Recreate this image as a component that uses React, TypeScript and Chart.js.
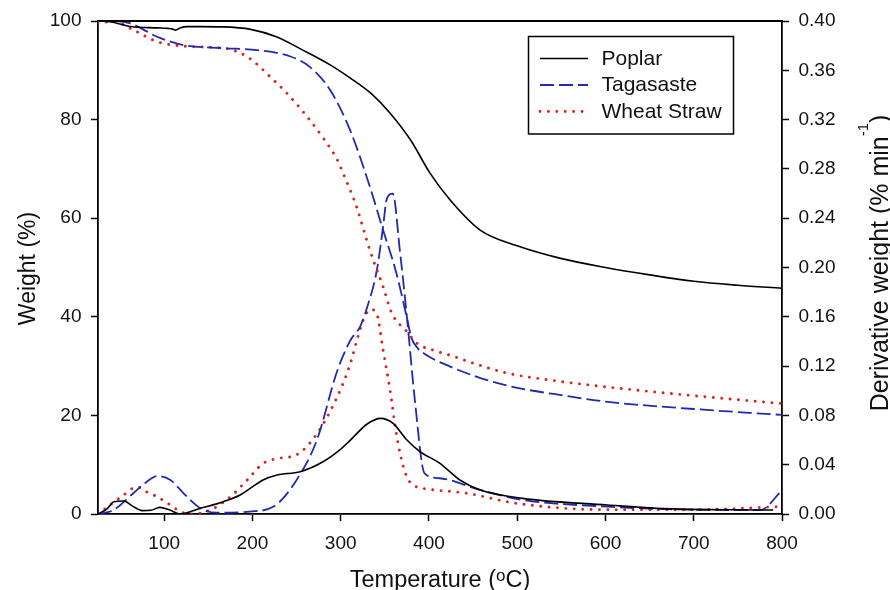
import { useEffect, useRef } from "react";
import { Chart, registerables } from "chart.js";

Chart.register(...registerables);

const FONT = '"Liberation Sans", Arial, Helvetica, sans-serif';

// Axis ticks
const tempTicks = [100, 200, 300, 400, 500, 600, 700, 800];
const weightTicks = [0, 20, 40, 60, 80, 100];
const derivTicks = [0, 0.04, 0.08, 0.12, 0.16, 0.2, 0.24, 0.28, 0.32, 0.36, 0.4];

const seriesNames = ["Poplar", "Tagasaste", "Wheat Straw"];

// TG curves: temperature (ºC) -> residual weight (%)
const poplarTgT = [25, 40, 62, 92, 104, 109, 113, 118, 126, 140, 167, 198, 227, 257, 288, 311, 335, 356, 379, 401, 424, 458, 500, 548, 600, 650, 700, 750, 800];
const poplarTg = [100, 99.8, 98.9, 98.6, 98.5, 98.4, 98.15, 98.6, 98.85, 98.85, 98.8, 98.3, 96.8, 94.1, 91.1, 88.4, 85.2, 81.3, 75.9, 69.2, 63.7, 57.6, 54.4, 51.9, 50.0, 48.5, 47.2, 46.4, 45.8];

const tagTgT = [25, 45, 62, 92, 122, 167, 205, 243, 265, 288, 311, 333, 348, 363, 375, 380, 386, 394, 424, 465, 500, 550, 600, 700, 800];
const tagTg = [100, 100, 99.5, 96.8, 95.1, 94.5, 94.1, 92.8, 90.7, 86.0, 77.7, 66.4, 57.6, 48.9, 39.8, 35.8, 33.9, 32.6, 29.9, 27.2, 25.6, 24.1, 22.8, 21.3, 20.1];

const wheatTgT = [25, 42, 65, 92, 122, 167, 178, 197, 220, 243, 265, 280, 296, 303, 318, 333, 348, 358, 375, 386, 409, 424, 450, 488, 540, 600, 700, 800];
const wheatTg = [99.5, 99.9, 98.2, 95.8, 94.9, 94.5, 94.1, 92.4, 88.7, 84.6, 79.9, 76.3, 71.9, 69.0, 62.3, 53.5, 46.1, 40.7, 37.0, 34.7, 33.0, 32.2, 30.6, 28.6, 27.1, 25.8, 24.0, 22.4];

// DTG curves: temperature (ºC) -> derivative weight (% min-1)
const poplarDtgT = [25, 35, 43, 54, 65, 76, 85, 95, 107, 118, 141, 167, 186, 212, 228, 254, 280, 299, 311, 330, 345, 359, 375, 390, 412, 435, 458, 506, 602, 658, 790];
const poplarDtg = [0, 0.004, 0.01, 0.0105, 0.006, 0.0027, 0.003, 0.0054, 0.003, 0, 0.0046, 0.01, 0.0154, 0.0276, 0.0316, 0.0343, 0.0424, 0.052, 0.06, 0.073, 0.0776, 0.0738, 0.06, 0.0505, 0.0413, 0.0276, 0.0195, 0.0127, 0.0073, 0.0046, 0.0032];

const tagDtgT = [25, 42, 65, 80, 92, 107, 122, 141, 160, 197, 224, 250, 273, 296, 311, 322, 329, 341, 348, 352, 359, 367, 375, 384, 395, 412, 458, 506, 602, 676, 775, 800];
const tagDtg = [0, 0.003, 0.0168, 0.026, 0.0308, 0.0276, 0.0168, 0.0046, 0.001, 0.002, 0.006, 0.0276, 0.06, 0.116, 0.141, 0.152, 0.1655, 0.198, 0.233, 0.255, 0.26, 0.214, 0.16, 0.0925, 0.033, 0.029, 0.0195, 0.0114, 0.006, 0.0038, 0.0032, 0.019];

const wheatDtgT = [25, 42, 54, 69, 80, 92, 107, 118, 129, 152, 175, 194, 212, 228, 250, 273, 296, 310, 320, 327, 334, 341, 348, 356, 362, 367, 375, 386, 393, 443, 499, 600, 700, 797];
const wheatDtg = [0, 0.009, 0.0154, 0.022, 0.018, 0.014, 0.0073, 0.002, 0, 0.0032, 0.014, 0.0276, 0.041, 0.045, 0.048, 0.065, 0.095, 0.12, 0.145, 0.16, 0.166, 0.162, 0.133, 0.1, 0.07, 0.05, 0.03, 0.022, 0.0208, 0.0168, 0.0087, 0.0035, 0.0035, 0.006];

const toPoints = (xs: number[], ys: number[]) => xs.map((x, i) => ({ x, y: ys[i] }));

const styles = [
  { borderColor: "#000000", borderWidth: 1.6, borderDash: [] as number[], borderCapStyle: "butt" as const },
  { borderColor: "rgb(32, 42, 175)", borderWidth: 1.8, borderDash: [14, 5], borderCapStyle: "butt" as const },
  { borderColor: "rgb(222, 32, 28)", borderWidth: 2.9, borderDash: [0.01, 8.4], borderCapStyle: "round" as const },
];

type Part = { text: string; sup?: boolean };

function drawRich(
  ctx: CanvasRenderingContext2D,
  parts: Part[],
  x: number,
  y: number,
  rotation: number,
  size: number,
  supSize: number,
  supRise: number
) {
  ctx.save();
  ctx.translate(x, y);
  ctx.rotate(rotation);
  ctx.textBaseline = "alphabetic";
  ctx.textAlign = "left";
  ctx.fillStyle = "#111";
  let total = 0;
  const widths = parts.map((p) => {
    ctx.font = `${p.sup ? supSize : size}px ${FONT}`;
    const w = ctx.measureText(p.text).width;
    total += w;
    return w;
  });
  let cx = -total / 2;
  parts.forEach((p, i) => {
    ctx.font = `${p.sup ? supSize : size}px ${FONT}`;
    ctx.fillText(p.text, cx, p.sup ? -supRise : 0);
    cx += widths[i];
  });
  ctx.restore();
}

const decorPlugin = {
  id: "decor",
  afterDraw(chart: any) {
    const { ctx, chartArea } = chart;
    // top edge of the frame
    ctx.save();
    ctx.strokeStyle = "#000";
    ctx.lineWidth = 1.8;
    ctx.beginPath();
    ctx.moveTo(chartArea.left - 0.9, chartArea.top);
    ctx.lineTo(chartArea.right + 0.9, chartArea.top);
    ctx.stroke();
    ctx.restore();

    // axis titles
    const midY = (chartArea.top + chartArea.bottom) / 2;
    const midX = (chartArea.left + chartArea.right) / 2;
    drawRich(ctx, [{ text: "Temperature (" }, { text: "o", sup: true }, { text: "C)" }], midX, 586.5, 0, 23.5, 17, 6);
    drawRich(ctx, [{ text: "Weight (%)" }], 35, midY + 1, -Math.PI / 2, 23, 15, 0);
    drawRich(ctx, [{ text: "Derivative weight (% min" }, { text: "-1", sup: true }, { text: ")" }], 888, 263, -Math.PI / 2, 25, 15, 20);

    // legend box
    const box = { x: 528.5, y: 36.5, w: 205, h: 97.5 };
    ctx.save();
    ctx.strokeStyle = "#000";
    ctx.lineWidth = 1.5;
    ctx.setLineDash([]);
    ctx.strokeRect(box.x, box.y, box.w, box.h);
    const rows = [58.5, 85, 111.5];
    chart.data.datasets.slice(0, 3).forEach((ds: any, i: number) => {
      const y = rows[i];
      ctx.save();
      ctx.strokeStyle = ds.borderColor;
      ctx.lineWidth = ds.borderWidth;
      ctx.lineCap = ds.borderCapStyle;
      ctx.setLineDash(ds.borderDash);
      ctx.beginPath();
      ctx.moveTo(540, y);
      ctx.lineTo(588, y);
      ctx.stroke();
      ctx.restore();
      ctx.fillStyle = "#111";
      ctx.font = `21px ${FONT}`;
      ctx.textBaseline = "middle";
      ctx.textAlign = "left";
      ctx.fillText(ds.label, 601.5, y + 0.5);
    });
    ctx.restore();
  },
};

export default function App() {
  const ref = useRef<HTMLCanvasElement>(null);

  useEffect(() => {
    const tgSets = [
      toPoints(poplarTgT, poplarTg),
      toPoints(tagTgT, tagTg),
      toPoints(wheatTgT, wheatTg),
    ].map((data, i) => ({
      label: seriesNames[i],
      data,
      yAxisID: "y",
      ...styles[i],
    }));
    const dtgSets = [
      toPoints(poplarDtgT, poplarDtg),
      toPoints(tagDtgT, tagDtg),
      toPoints(wheatDtgT, wheatDtg),
    ].map((data, i) => ({
      label: `${seriesNames[i]} DTG`,
      data,
      yAxisID: "y1",
      ...styles[i],
    }));

    const tickFont = { family: FONT, size: 19 };
    const axisCommon = (ticks: number[]) => ({
      afterBuildTicks: (scale: any) => {
        scale.ticks = ticks.map((value) => ({ value }));
      },
      border: { display: true, color: "#000", width: 1.8 },
      grid: {
        display: true,
        drawOnChartArea: false,
        drawTicks: true,
        tickLength: 7,
        tickWidth: 1.5,
        color: "#000",
      },
    });

    const chart = new Chart(ref.current!, {
      type: "line",
      data: { datasets: [...tgSets, ...dtgSets] as any },
      options: {
        animation: false,
        responsive: false,
        devicePixelRatio: 1,
        layout: { padding: { top: 21, left: 0, right: 0, bottom: 0 } },
        elements: {
          point: { radius: 0, hoverRadius: 0 },
          line: { cubicInterpolationMode: "monotone", fill: false },
        },
        plugins: { legend: { display: false }, tooltip: { enabled: false } },
        scales: {
          x: {
            type: "linear",
            position: "bottom",
            min: 25,
            max: 800,
            ...axisCommon(tempTicks),
            afterFit: (scale: any) => {
              scale.height = 76;
            },
            ticks: { font: tickFont, color: "#111", padding: 11, maxRotation: 0 },
          },
          y: {
            type: "linear",
            position: "left",
            min: 0,
            max: 100,
            ...axisCommon(weightTicks),
            afterFit: (scale: any) => {
              scale.width = 98;
            },
            ticks: { font: tickFont, color: "#111", padding: 9.5 },
          },
          y1: {
            type: "linear",
            position: "right",
            min: 0,
            max: 0.4,
            ...axisCommon(derivTicks),
            afterFit: (scale: any) => {
              scale.width = 108;
            },
            ticks: {
              font: tickFont,
              color: "#111",
              padding: 9.5,
              callback: (v: any) => Number(v).toFixed(2),
            },
          },
        },
      },
      plugins: [decorPlugin],
    });
    return () => chart.destroy();
  }, []);

  return (
    <div style={{ position: "absolute", left: 0, top: 0, width: 890, height: 590, background: "#fff" }}>
      <canvas ref={ref} width={890} height={590} style={{ display: "block" }} />
    </div>
  );
}
